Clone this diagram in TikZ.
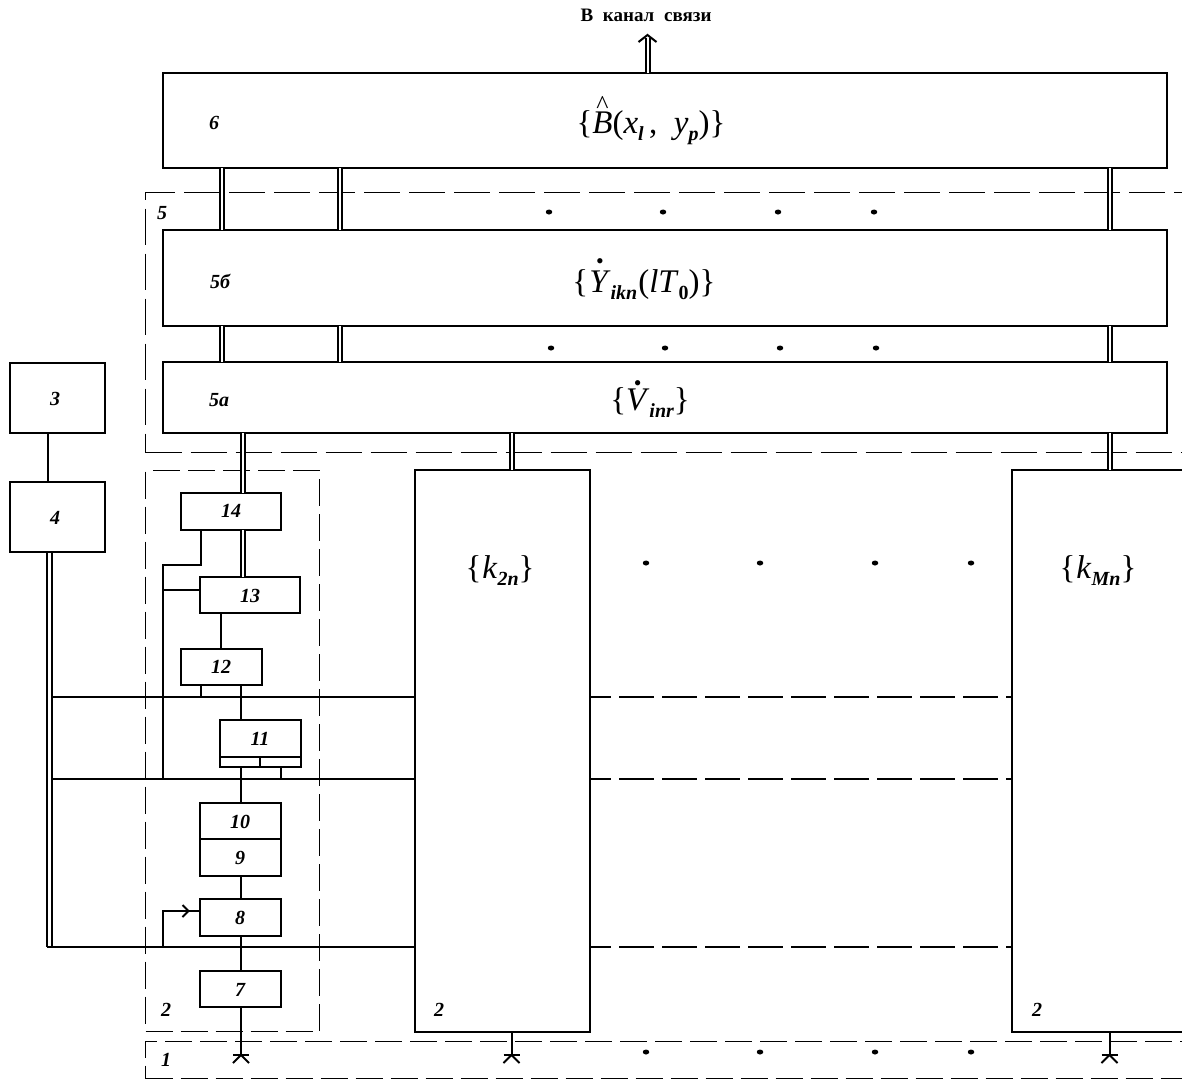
\documentclass[tikz,border=0pt]{standalone}
\usepackage[no-math]{fontspec}
\setmainfont{Liberation Serif}
\usetikzlibrary{shapes.geometric,calc}
\newcommand\lowsub[2][-7pt]{\raisebox{#1}{\fontsize{20}{20}\selectfont\bfseries\itshape #2}}
\newcommand\markon[3]{{\sbox0{#2}\makebox[\wd0][c]{\raisebox{#3}[0pt][0pt]{#1}}\kern-\wd0\box0}}
\newcommand\dotmark{\fontsize{22}{22}\selectfont\textbullet}
\newcommand\hatmark{\fontsize{26}{26}\selectfont\textasciicircum}
\newcommand\pxbox[6][blockbox]{\node[#1,minimum width={(#5-#3)*1pt},minimum height={(#6-#4)*1pt}] (#2) at ({(#3+#5)/2},{(#4+#6)/2}) {};}
\tikzset{
  x=1pt,y=-1pt,
  blockbox/.style={draw=black,fill=white,line width=2pt,inner sep=0pt,outer sep=0pt},
  dashbox/.style={draw=black,line width=1.3pt,inner sep=0pt,outer sep=0pt,dash pattern=on 27pt off 8pt},
  widedash/.style={draw=black,line width=1.3pt,inner sep=0pt,outer sep=0pt,dash pattern=on 36pt off 9pt},
  wire/.style={draw=black,line width=2pt},
  heavywire/.style={draw=black,line width=2.4pt},
  twin/.style={draw=black,line width=2pt,double=white,double distance=2pt},
  gapwire/.style={draw=black,line width=1.6pt,dash pattern=on 35pt off 8pt,dash phase=14pt},
  numlabel/.style={font=\fontsize{20}{20}\selectfont\bfseries\itshape,inner sep=0pt},
  formula/.style={font=\fontsize{33}{33}\selectfont,inner sep=0pt,anchor=base},
  dotnode/.style={draw=none,fill=black,ellipse,minimum width=6.5pt,minimum height=5pt,inner sep=0pt},
}
\begin{document}
\begin{tikzpicture}
\useasboundingbox (0,0) rectangle (1182,1080);
\fill[white] (0,0) rectangle (1182,1080);
\clip (0,0) rectangle (1182,1080);
% dashed groups
\pxbox[widedash]{g5}{145.5}{192.5}{1200}{452.5}
\pxbox[dashbox]{g2}{145.5}{470.5}{319.5}{1031.5}
\pxbox[dashbox]{g1}{145.5}{1041.5}{1200}{1078.5}
% blocks
\pxbox{b6}{163}{73}{1167}{168}
\pxbox{b5b}{163}{230}{1167}{326}
\pxbox{b5a}{163}{362}{1167}{433}
\pxbox{b3}{10}{363}{105}{433}
\pxbox{b4}{10}{482}{105}{552}
\pxbox{b14}{181}{493}{281}{530}
\pxbox{b13}{200}{577}{300}{613}
\pxbox{b12}{181}{649}{262}{685}
\pxbox{b11}{220}{720}{301}{757}
\pxbox{b11l}{220}{757}{260}{767}
\pxbox{b11r}{260}{757}{301}{767}
\pxbox{b10}{200}{803}{281}{839}
\pxbox{b9}{200}{839}{281}{876}
\pxbox{b8}{200}{899}{281}{936}
\pxbox{b7}{200}{971}{281}{1007}
\pxbox{k2}{415}{470}{590}{1032}
\pxbox{kM}{1012}{470}{1200}{1032}
% reference columns and rows
\coordinate (c1) at (221.5,0);
\coordinate (c2) at (339.5,0);
\coordinate (c3) at (1109.5,0);
\coordinate (c4) at (242.5,0);
\coordinate (c5) at (511.5,0);
\coordinate (ctop) at (647.5,0);
\coordinate (busL) at (47,0);
\coordinate (busR) at (52,0);
\coordinate (busC) at (163,0);
\coordinate (bus1) at (0,697);
\coordinate (bus2) at (0,779);
\coordinate (bus3) at (0,947);
\coordinate (topend) at (647.5,38);
\coordinate (toptip) at (647.5,35);
\coordinate (antrow) at (0,1055);
% twin connectors
\foreach \c in {c1,c2,c3}{
  \draw[twin] (\c |- b6.south) -- (\c |- b5b.north);
  \draw[twin] (\c |- b5b.south) -- (\c |- b5a.north);
}
\draw[twin] (c4 |- b5a.south) -- (c4 |- b14.north);
\draw[twin] (c4 |- b14.south) -- (c4 |- b13.north);
\draw[twin] (c5 |- b5a.south) -- (c5 |- k2.north);
\draw[twin] (c3 |- b5a.south) -- (c3 |- kM.north);
\draw[twin] (ctop |- b6.north) -- (topend);
\draw[wire] ($(toptip)+(-9,7)$) -- (toptip) -- ($(toptip)+(9,7)$);
% buses
\draw[wire] ($(b3.south west)!0.4!(b3.south east)$) -- ($(b4.north west)!0.4!(b4.north east)$);
\draw[wire] (busL |- b4.south) -- (busL |- bus3);
\draw[wire] (busR |- b4.south) -- (busR |- bus3);
\draw[wire] (busR |- bus1) -- (k2.west |- bus1);
\draw[wire] (busR |- bus2) -- (k2.west |- bus2);
\draw[heavywire] (busL |- bus3) -- (k2.west |- bus3);
\draw[gapwire] (k2.east |- bus1) -- (kM.west |- bus1);
\draw[gapwire] (k2.east |- bus2) -- (kM.west |- bus2);
\draw[gapwire] (k2.east |- bus3) -- (kM.west |- bus3);
% internal wiring of channel
\coordinate (c14) at (201,0);
\coordinate (jog) at (0,565);
\draw[wire] (c14 |- b14.south) -- (c14 |- jog) -- (busC |- jog) -- (busC |- bus2);
\coordinate (br13) at (0,590);
\draw[wire] (busC |- br13) -- (b13.west |- br13);
\coordinate (c13) at (221,0);
\draw[wire] (c13 |- b13.south) -- (c13 |- b12.north);
\draw[wire] (c14 |- b12.south) -- (c14 |- bus1);
\coordinate (c12) at (241,0);
\draw[wire] (c12 |- b12.south) -- (c12 |- b11.north);
\draw[wire] (c12 |- b11l.south) -- (c12 |- b10.north);
\coordinate (c11) at (281,0);
\draw[wire] (c11 |- b11r.south) -- (c11 |- bus2);
\coordinate (c8) at (241,0);
\draw[wire] (c8 |- b9.south) -- (c8 |- b8.north);
\draw[wire] (c8 |- b8.south) -- (c8 |- b7.north);
\coordinate (in8) at (0,911);
\coordinate (tip8) at (188.5,911);
\draw[wire] (busC |- bus3) -- (busC |- in8) -- (b8.west |- in8);
\draw[wire] ($(tip8)+(-6,-6)$) -- (tip8) -- ($(tip8)+(-6,6)$);
% antennas
\foreach \c/\n in {c8/b7,c5/k2,c3/kM}{
  \coordinate (ant) at (\c |- antrow);
  \draw[wire] (\c |- \n.south) -- (ant);
  \draw[wire] ($(ant)+(-8,0)$) -- ($(ant)+(8,0)$);
  \draw[wire] ($(ant)+(-8,8)$) -- (ant) -- ($(ant)+(8,8)$);
}
% dots
\foreach \i/\x/\y in {1/549/212,2/663/212,3/778/212,4/874/212,5/551/348,6/665/348,7/780/348,8/876/348,9/646/563,10/760/563,11/875/563,12/971/563,13/646/1052,14/760/1052,15/875/1052,16/971/1052}{
  \node[dotnode] (dot\i) at (\x,\y) {};
}
% labels
\node[inner sep=0pt] (chan) at (646,15) {\fontsize{19}{19}\selectfont\bfseries В\hspace{5pt} канал\hspace{5pt} связи};
\node[numlabel] (l3) at (55,399) {3};
\node[numlabel] (l4) at (55,518) {4};
\node[numlabel] (l6) at (214,123) {6};
\node[numlabel] (l5) at (162,213) {5};
\node[numlabel] (l5b) at (220,281) {5б};
\node[numlabel] (l5a) at (219,400) {5а};
\node[numlabel] (l14) at (231,511) {14};
\node[numlabel] (l13) at (250,596) {13};
\node[numlabel] (l12) at (221,667) {12};
\node[numlabel] (l11) at (260,739) {11};
\node[numlabel] (l10) at (240,822) {10};
\node[numlabel] (l9) at (240,858) {9};
\node[numlabel] (l8) at (240,918) {8};
\node[numlabel] (l7) at (240,990) {7};
\node[numlabel] (lg2) at (166,1010) {2};
\node[numlabel] (lg1) at (166,1060) {1};
\node[numlabel] (lk2) at (439,1010) {2};
\node[numlabel] (lkM) at (1037,1010) {2};
\node[formula] (f6) at (651,133) {\{\markon{\hatmark}{\textit{B}}{20pt}(\textit{x}\lowsub{l}\,,\ \ \textit{y}\lowsub{p})\}};
\node[formula] (f5b) at (644,292) {\{\kern1pt\markon{\dotmark}{\textit{Y}}{24pt}\lowsub{ikn}\kern1pt(\textit{lT}\lowsub{\upshape 0})\}};
\node[formula] (f5a) at (650,410) {\{\markon{\dotmark}{\textit{V}}{20pt}\lowsub{inr}\}};
\node[formula] (fk2) at (500,578) {\{\kern1pt\textit{k}\lowsub{2n}\}};
\node[formula] (fkM) at (1098,578) {\{\kern1pt\textit{k}\lowsub{Mn}\}};
\end{tikzpicture}
\end{document}
